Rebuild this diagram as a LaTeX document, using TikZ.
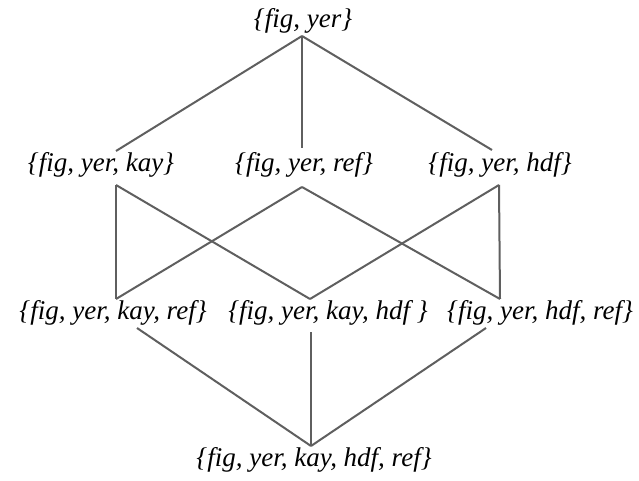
\documentclass[tikz,border=0pt]{standalone}
\usepackage{fontspec}
\setmainfont{Liberation Serif}
\begin{document}
\begin{tikzpicture}[x=1pt,y=-1pt,
  setlabel/.style={inner sep=0pt, font=\fontsize{27}{30}\selectfont\itshape},
  edge/.style={draw={rgb,255:red,95;green,95;blue,95}, line width=2pt}]
\useasboundingbox (0,0) rectangle (639,481);
% nodes
\node[setlabel] (top) at (303,21) {\{fig, yer\}};
\node[setlabel] (kay) at (101,165) {\{fig, yer, kay\}};
\node[setlabel] (ref) at (304,165) {\{fig, yer, ref\}};
\node[setlabel] (hdf) at (500,165) {\{fig, yer, hdf\}};
\node[setlabel] (kr) at (113,313) {\{fig, yer, kay, ref\}};
\node[setlabel] (kh) at (328,313) {\{fig, yer, kay, hdf \}};
\node[setlabel] (hr) at (540,313) {\{fig, yer, hdf, ref\}};
\node[setlabel] (all) at (314,460) {\{fig, yer, kay, hdf, ref\}};
% attachment points
\coordinate (top-b) at (302,36);
\coordinate (kay-t) at (116,151);
\coordinate (ref-t) at (302,148);
\coordinate (hdf-t) at (492,150);
\coordinate (kay-b) at (116,185);
\coordinate (ref-b) at (302,187);
\coordinate (hdf-b) at (499,185);
\coordinate (kr-t) at (116,299);
\coordinate (kh-t) at (310,299);
\coordinate (hr-t) at (500,299);
\coordinate (kr-b) at (137,328);
\coordinate (kh-b) at (311,332);
\coordinate (hr-b) at (486,328);
\coordinate (all-t) at (311,446);
% edges
\draw[edge] (top-b) -- (kay-t);
\draw[edge] (top-b) -- (ref-t);
\draw[edge] (top-b) -- (hdf-t);
\draw[edge] (kay-b) -- (kr-t);
\draw[edge] (kay-b) -- (kh-t);
\draw[edge] (ref-b) -- (kr-t);
\draw[edge] (ref-b) -- (hr-t);
\draw[edge] (hdf-b) -- (kh-t);
\draw[edge] (hdf-b) -- (hr-t);
\draw[edge] (kr-b) -- (all-t);
\draw[edge] (kh-b) -- (all-t);
\draw[edge] (hr-b) -- (all-t);
\end{tikzpicture}
\end{document}
